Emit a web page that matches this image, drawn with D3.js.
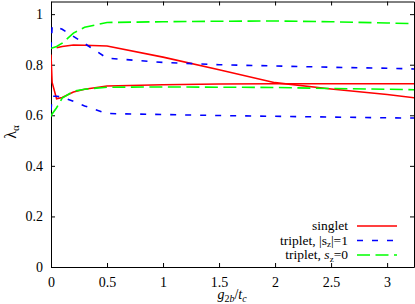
<!DOCTYPE html>
<html><head><meta charset="utf-8">
<script src="https://cdn.jsdelivr.net/npm/d3@7"></script>
<style>
html,body{margin:0;padding:0;background:#fff;}
svg{display:block;}
text{font-family:"Liberation Serif","DejaVu Serif",serif;fill:#000;}
</style></head><body>
<svg id="c" width="415" height="304"></svg>
<script>
const xs = [0, 0.01, 0.05, 0.1, 0.2, 0.3, 0.5, 1.0, 1.5, 2.0, 2.5, 3.0, 3.25];
const singletUpper = [1.0, null, 0.867, 0.872, 0.878, 0.877, 0.874, 0.83, 0.78, 0.729, 0.704, 0.682, 0.669];
const singletLower = [0.84, 0.73, 0.665, 0.67, 0.692, 0.703, 0.716, 0.721, 0.724, 0.725, 0.725, 0.725, 0.725];
const tripletSz1Upper = [0.865, 0.95, 0.95, 0.94, 0.912, 0.884, 0.826, 0.809, 0.8, 0.795, 0.79, 0.786, 0.783];
const tripletSz1Lower = [0.62, 0.675, 0.675, 0.672, 0.655, 0.637, 0.607, 0.603, 0.599, 0.596, 0.593, 0.59, 0.589];
const tripletSz0Upper = [0.865, 0.866, 0.872, 0.885, 0.925, 0.948, 0.967, 0.97, 0.972, 0.973, 0.97, 0.965, 0.962];
const tripletSz0Lower = [0.595, 0.605, 0.63, 0.668, 0.695, 0.703, 0.711, 0.712, 0.711, 0.71, 0.706, 0.703, 0.701];
const xTicks = [0, 0.5, 1, 1.5, 2, 2.5, 3];
const yTicks = [0, 0.2, 0.4, 0.6, 0.8, 1];
const legendLabels = ["singlet", "triplet, |s_z|=1", "triplet, s_z=0"];

const L = 51, R = 414, T = 1.5, B = 267;
const svg = d3.select("#c");
const x = d3.scaleLinear().domain([0, 3.24]).range([L, R]);
const y = d3.scaleLinear().domain([0, 1.05]).range([B, T]);
const fmt = d3.format("~g");

svg.append("defs").append("clipPath").attr("id","clip")
  .append("rect").attr("x",L).attr("y",T).attr("width",R-L).attr("height",B-T);

function styleAxis(g){
  g.selectAll(".domain").attr("stroke","#000").attr("stroke-width",1);
  g.selectAll(".tick line").attr("stroke","#000").attr("stroke-width",1);
  g.selectAll("text").attr("font-family","Liberation Serif, DejaVu Serif, serif").attr("font-size",14).attr("fill","#000");
}
const gx = svg.append("g").attr("transform",`translate(0,${B})`)
  .call(d3.axisBottom(x).tickValues(xTicks).tickFormat(fmt).tickSize(-4).tickSizeOuter(0).tickPadding(10));
styleAxis(gx);
const gy = svg.append("g").attr("transform",`translate(${L},0)`)
  .call(d3.axisLeft(y).tickValues(yTicks).tickFormat(fmt).tickSize(-4).tickSizeOuter(0).tickPadding(8));
styleAxis(gy);
const gt = svg.append("g").attr("transform",`translate(0,${T})`)
  .call(d3.axisTop(x).tickValues(xTicks).tickFormat("").tickSize(-4).tickSizeOuter(0));
styleAxis(gt);
const gr = svg.append("g").attr("transform",`translate(${R},0)`)
  .call(d3.axisRight(y).tickValues(yTicks).tickFormat("").tickSize(-4).tickSizeOuter(0));
styleAxis(gr);

const line = d3.line().defined(d => d[1] !== null).x(d => x(d[0])).y(d => y(d[1]));
const series = [
  {vals: singletUpper, color:"#ff0000", dash:null},
  {vals: singletLower, color:"#ff0000", dash:null},
  {vals: tripletSz1Upper, color:"#0000ff", dash:"6,9"},
  {vals: tripletSz1Lower, color:"#0000ff", dash:"6,9"},
  {vals: tripletSz0Upper, color:"#00ff00", dash:"13,5.5"},
  {vals: tripletSz0Lower, color:"#00ff00", dash:"13,5.5"}
];
const plot = svg.append("g").attr("clip-path","url(#clip)");
series.forEach(s => {
  plot.append("path").datum(xs.map((xv,i)=>[xv, s.vals[i]]))
    .attr("d", line).attr("fill","none").attr("stroke", s.color)
    .attr("stroke-width",1.6).attr("stroke-dasharray", s.dash);
});

// legend
const legColors = ["#ff0000","#0000ff","#00ff00"];
const legDash = [null,"6,9","13,5.5"];
const legY = [226, 240.5, 255];
const leg = svg.append("g");
legendLabels.forEach((lab,i)=>{
  const t = leg.append("text").attr("x",348).attr("y",legY[i]+4).attr("text-anchor","end").attr("font-size",13.5);
  if (i===0) { t.text(lab); }
  else if (i===1) {
    t.append("tspan").text("triplet, |s");
    t.append("tspan").attr("font-size",9).attr("dy",2.5).text("z");
    t.append("tspan").attr("dy",-2.5).text("|=1");
  } else {
    t.append("tspan").text("triplet, ");
    t.append("tspan").attr("font-style","italic").text("s");
    t.append("tspan").attr("font-size",9).attr("dy",2.5).text("z");
    t.append("tspan").attr("dy",-2.5).text("=0");
  }
  leg.append("line").attr("x1",357).attr("x2",397).attr("y1",legY[i]).attr("y2",legY[i])
    .attr("stroke",legColors[i]).attr("stroke-width",1.6).attr("stroke-dasharray",legDash[i]);
});

// axis labels
const xl = svg.append("text").attr("x",232).attr("y",299).attr("text-anchor","middle").attr("font-size",14).attr("font-style","italic");
xl.append("tspan").text("g");
xl.append("tspan").attr("font-size",10).attr("dy",2.5).attr("font-style","normal").text("2");
xl.append("tspan").attr("font-size",10).text("b");
xl.append("tspan").attr("dy",-2.5).attr("font-style","normal").text("/");
xl.append("tspan").text("t");
xl.append("tspan").attr("font-size",10).attr("dy",2.5).text("c");

const yl = svg.append("text").attr("transform","translate(16,132) rotate(-90)").attr("text-anchor","middle").attr("font-size",16);
yl.append("tspan").text("λ");
yl.append("tspan").attr("font-size",11).attr("dy",3).text("α");
</script>
</body></html>
